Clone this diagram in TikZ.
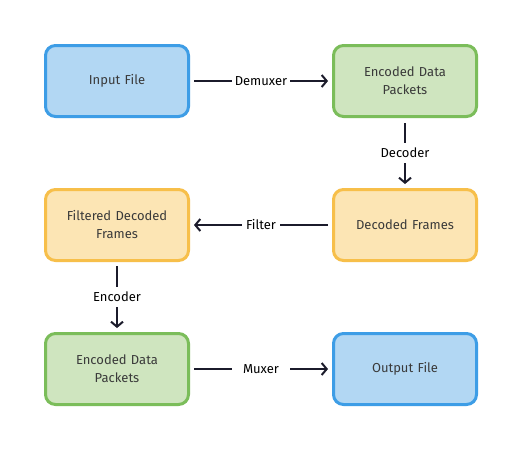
\documentclass[tikz,border=0pt]{standalone}
\usepackage{fontspec}
\setmainfont{Fira Sans}
\usetikzlibrary{arrows.meta}
\definecolor{bluefill}{HTML}{B2D7F3}
\definecolor{blueline}{HTML}{3D9DE6}
\definecolor{greenfill}{HTML}{CFE5BF}
\definecolor{greenline}{HTML}{7BBD5A}
\definecolor{orangefill}{HTML}{FCE5B4}
\definecolor{orangeline}{HTML}{F7BF4A}
\definecolor{boxtext}{HTML}{3A3A3A}
\definecolor{edgecol}{HTML}{1B1B2B}
\tikzset{
  box/.style={rectangle, rounded corners=10pt, line width=3pt, minimum width=143pt, minimum height=71pt,
    align=center, text width=130pt, font=\fontsize{13}{18}\selectfont, text=boxtext},
  bluebox/.style={box, draw=blueline, fill=bluefill},
  greenbox/.style={box, draw=greenline, fill=greenfill},
  orangebox/.style={box, draw=orangeline, fill=orangefill},
  flow/.style={draw=edgecol, line width=2pt, -{Straight Barb[length=5pt,width=12pt,line width=2pt]}, shorten <=4pt, shorten >=4pt},
  lbl/.style={fill=white, text=black, font=\fontsize{13}{16}\selectfont, inner ysep=6pt}
}
\begin{document}
\begin{tikzpicture}[x=1pt,y=-1pt]
\useasboundingbox[fill=white] (0,0) rectangle (522,450);
\node[bluebox]   (in)   at (117,81)  {Input File};
\node[greenbox]  (enc1) at (405,81)  {Encoded Data\\Packets};
\node[orangebox] (dec)  at (405,225) {Decoded Frames};
\node[orangebox] (filt) at (117,225) {Filtered Decoded\\Frames};
\node[greenbox]  (enc2) at (117,369) {Encoded Data\\Packets};
\node[bluebox]   (out)  at (405,369) {Output File};

\draw[flow] (in.east) -- node[lbl, inner xsep=2.5pt] (l1) {Demuxer} (enc1.west);
\draw[flow, shorten <=5pt] (enc1.south) -- node[lbl, inner xsep=2pt, inner ysep=5pt] (l2) {Decoder} (dec.north);
\draw[flow] (dec.west) -- node[lbl, inner xsep=4pt] (l3) {Filter} (filt.east);
\draw[flow] (filt.south) -- node[lbl, inner xsep=2pt, inner ysep=5pt] (l4) {Encoder} (enc2.north);
\draw[flow] (enc2.east) -- node[lbl, inner xsep=11pt] (l5) {Muxer} (out.west);
\end{tikzpicture}
\end{document}
